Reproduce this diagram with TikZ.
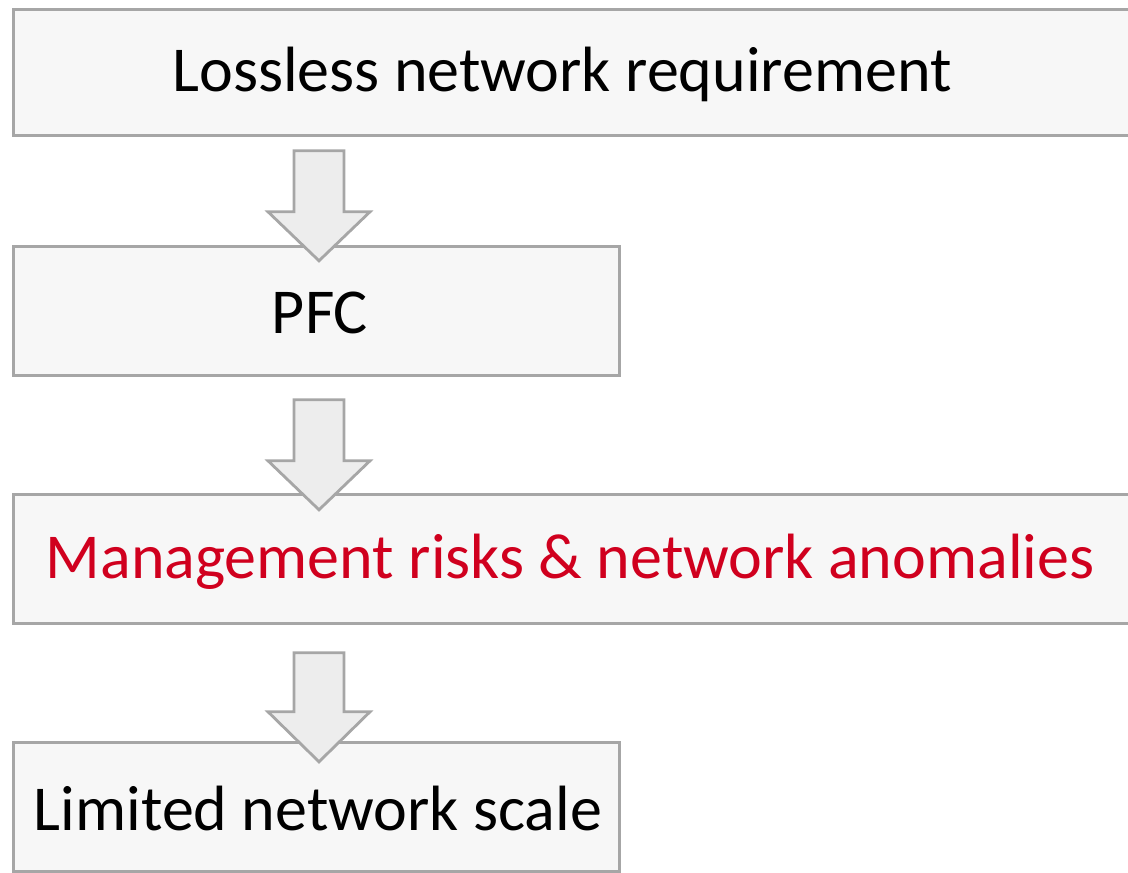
\documentclass[tikz,border=0pt]{standalone}
\usepackage{fontspec}
\setmainfont{Carlito}
\usetikzlibrary{calc}
\definecolor{boxfill}{HTML}{F7F7F7}
\definecolor{boxline}{HTML}{A6A6A6}
\definecolor{arrfill}{HTML}{EDEDED}
\definecolor{redtxt}{RGB}{208,0,30}
\tikzset{
  box/.style={draw=boxline, fill=boxfill, line width=2.8pt, anchor=north west, inner sep=0pt},
  lbl/.style={font=\fontsize{64}{72}\selectfont, inner sep=0pt},
  barrow/.style={draw=boxline, fill=arrfill, line width=2.8pt, line join=miter},
}
\begin{document}
\begin{tikzpicture}[x=1pt,y=-1pt]
\useasboundingbox (0,0) rectangle (1128,873);
\node[box, minimum width=1140pt, minimum height=126pt] (b1) at (12,8) {};
\node[box, minimum width=606pt, minimum height=129pt] (b2) at (12,245) {};
\node[box, minimum width=1140pt, minimum height=129pt] (b3) at (12,493) {};
\node[box, minimum width=606pt, minimum height=129pt] (b4) at (12,741) {};
\node[lbl] (t1) at (562,74) {Lossless network requirement};
\node[lbl] (t2) at (320,313) {PFC};
\node[lbl, text=redtxt] (t3) at (570,562) {Management risks \& network anomalies};
\node[lbl] (t4) at (318,809) {Limited network scale};
\coordinate (a1) at ($(b1.south west)+(307,14)$);
\coordinate (a2) at ($(b2.south west)+(307,23)$);
\coordinate (a3) at ($(b3.south west)+(307,28)$);
\draw[barrow] ($(a1)+(-25,0)$) -- ++(0,61) -- ++(-26,0) -- ++(51,49) -- ++(51,-49) -- ++(-26,0) -- ++(0,-61) -- cycle;
\draw[barrow] ($(a2)+(-25,0)$) -- ++(0,61) -- ++(-26,0) -- ++(51,49) -- ++(51,-49) -- ++(-26,0) -- ++(0,-61) -- cycle;
\draw[barrow] ($(a3)+(-25,0)$) -- ++(0,59) -- ++(-26,0) -- ++(51,50) -- ++(51,-50) -- ++(-26,0) -- ++(0,-59) -- cycle;
\end{tikzpicture}
\end{document}
